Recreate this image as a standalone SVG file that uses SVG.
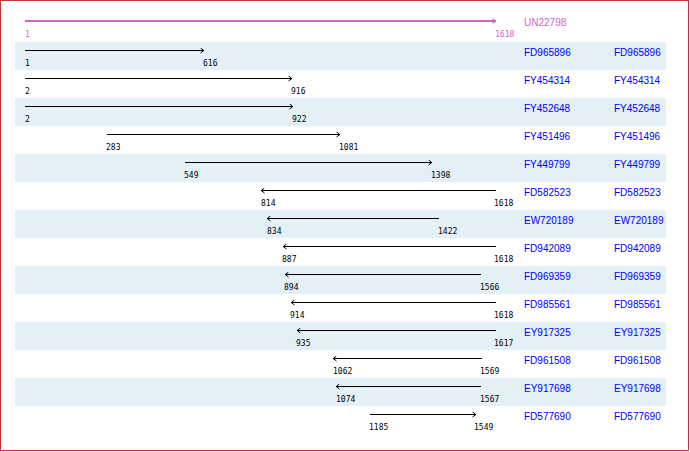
<svg xmlns="http://www.w3.org/2000/svg" width="690" height="452" viewBox="0 0 690 452">
<style>
.band{fill:#e3f0f5}
.ln{stroke:#000;stroke-width:1;fill:none}
.num{font-family:"DejaVu Sans Mono","Liberation Mono",monospace;font-size:8px;fill:#000}
.acc{font-family:"Liberation Sans",Arial,sans-serif;font-size:10px;fill:#0000ff}
.hdr{fill:#cc66cc}
</style>
<defs>
<marker id="ah" markerUnits="userSpaceOnUse" viewBox="0 0 4 6" refX="3.8" refY="3" markerWidth="4" markerHeight="6" orient="auto">
<path d="M0.3,0.5 L3.6,3 L0.3,5.5" fill="none" stroke="#000" stroke-width="1"/>
</marker>
<marker id="ahm" markerUnits="userSpaceOnUse" viewBox="0 0 4 6" refX="3.8" refY="3" markerWidth="4" markerHeight="6" orient="auto">
<path d="M0.3,0.8 L3.6,3 L0.3,5.2" fill="none" stroke="#cc66cc" stroke-width="1.2"/>
</marker>
</defs>
<rect x="0.5" y="0.5" width="688" height="450" fill="#fff" stroke="#c03a3a" stroke-width="1"/>
<g id="bands">
<rect class="band" x="15" y="42" width="651" height="28"/>
<rect class="band" x="15" y="98" width="651" height="28"/>
<rect class="band" x="15" y="154" width="651" height="28"/>
<rect class="band" x="15" y="210" width="651" height="28"/>
<rect class="band" x="15" y="266" width="651" height="28"/>
<rect class="band" x="15" y="322" width="651" height="28"/>
<rect class="band" x="15" y="378" width="651" height="28"/>
</g>
<g id="connectors">
<line x1="25" y1="21" x2="496" y2="21" stroke="#cc66cc" stroke-width="2" marker-end="url(#ahm)"/>
<line class="ln" x1="25" y1="50.5" x2="204" y2="50.5" marker-end="url(#ah)"/>
<line class="ln" x1="25" y1="78.5" x2="292" y2="78.5" marker-end="url(#ah)"/>
<line class="ln" x1="25" y1="106.5" x2="293" y2="106.5" marker-end="url(#ah)"/>
<line class="ln" x1="107" y1="134.5" x2="340" y2="134.5" marker-end="url(#ah)"/>
<line class="ln" x1="185" y1="162.5" x2="432" y2="162.5" marker-end="url(#ah)"/>
<line class="ln" x1="496" y1="190.5" x2="261" y2="190.5" marker-end="url(#ah)"/>
<line class="ln" x1="439" y1="218.5" x2="267" y2="218.5" marker-end="url(#ah)"/>
<line class="ln" x1="496" y1="246.5" x2="283" y2="246.5" marker-end="url(#ah)"/>
<line class="ln" x1="481" y1="274.5" x2="285" y2="274.5" marker-end="url(#ah)"/>
<line class="ln" x1="496" y1="302.5" x2="291" y2="302.5" marker-end="url(#ah)"/>
<line class="ln" x1="496" y1="330.5" x2="297" y2="330.5" marker-end="url(#ah)"/>
<line class="ln" x1="482" y1="358.5" x2="333" y2="358.5" marker-end="url(#ah)"/>
<line class="ln" x1="481" y1="386.5" x2="336" y2="386.5" marker-end="url(#ah)"/>
<line class="ln" x1="370" y1="414.5" x2="476" y2="414.5" marker-end="url(#ah)"/>
</g>
<g id="UN22798">
<text class="num hdr" x="25" y="37">1</text>
<text class="num hdr" x="495" y="37">1618</text>
<text class="acc hdr" x="524" y="26">UN22798</text>
</g>
<g id="FD965896">
<text class="num" x="25" y="66">1</text><text class="num" x="203" y="66">616</text>
<text class="acc" x="524" y="56">FD965896</text><text class="acc" x="614" y="56">FD965896</text>
</g>
<g id="FY454314">
<text class="num" x="25" y="94">2</text><text class="num" x="291" y="94">916</text>
<text class="acc" x="524" y="84">FY454314</text><text class="acc" x="614" y="84">FY454314</text>
</g>
<g id="FY452648">
<text class="num" x="25" y="122">2</text><text class="num" x="292" y="122">922</text>
<text class="acc" x="524" y="112">FY452648</text><text class="acc" x="614" y="112">FY452648</text>
</g>
<g id="FY451496">
<text class="num" x="106" y="150">283</text><text class="num" x="339" y="150">1081</text>
<text class="acc" x="524" y="140">FY451496</text><text class="acc" x="614" y="140">FY451496</text>
</g>
<g id="FY449799">
<text class="num" x="184" y="178">549</text><text class="num" x="431" y="178">1398</text>
<text class="acc" x="524" y="168">FY449799</text><text class="acc" x="614" y="168">FY449799</text>
</g>
<g id="FD582523">
<text class="num" x="261" y="206">814</text><text class="num" x="494" y="206">1618</text>
<text class="acc" x="524" y="196">FD582523</text><text class="acc" x="614" y="196">FD582523</text>
</g>
<g id="EW720189">
<text class="num" x="267" y="234">834</text><text class="num" x="438" y="234">1422</text>
<text class="acc" x="524" y="224">EW720189</text><text class="acc" x="614" y="224">EW720189</text>
</g>
<g id="FD942089">
<text class="num" x="282" y="262">887</text><text class="num" x="494" y="262">1618</text>
<text class="acc" x="524" y="252">FD942089</text><text class="acc" x="614" y="252">FD942089</text>
</g>
<g id="FD969359">
<text class="num" x="284" y="290">894</text><text class="num" x="480" y="290">1566</text>
<text class="acc" x="524" y="280">FD969359</text><text class="acc" x="614" y="280">FD969359</text>
</g>
<g id="FD985561">
<text class="num" x="290" y="318">914</text><text class="num" x="494" y="318">1618</text>
<text class="acc" x="524" y="308">FD985561</text><text class="acc" x="614" y="308">FD985561</text>
</g>
<g id="EY917325">
<text class="num" x="296" y="346">935</text><text class="num" x="494" y="346">1617</text>
<text class="acc" x="524" y="336">EY917325</text><text class="acc" x="614" y="336">EY917325</text>
</g>
<g id="FD961508">
<text class="num" x="333" y="374">1062</text><text class="num" x="480" y="374">1569</text>
<text class="acc" x="524" y="364">FD961508</text><text class="acc" x="614" y="364">FD961508</text>
</g>
<g id="EY917698">
<text class="num" x="336" y="402">1074</text><text class="num" x="480" y="402">1567</text>
<text class="acc" x="524" y="392">EY917698</text><text class="acc" x="614" y="392">EY917698</text>
</g>
<g id="FD577690">
<text class="num" x="369" y="430">1185</text><text class="num" x="474" y="430">1549</text>
<text class="acc" x="524" y="420">FD577690</text><text class="acc" x="614" y="420">FD577690</text>
</g>
</svg>
